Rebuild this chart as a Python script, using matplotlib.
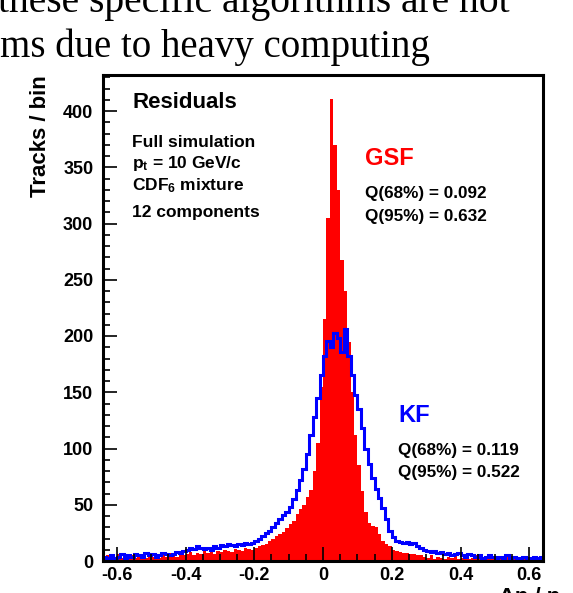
import matplotlib
matplotlib.use("Agg")
import matplotlib.pyplot as plt
import numpy as np

# histogram binning: 0.01 wide bins over [-0.64, 0.64]
bin_lo = -0.64
bin_hi = 0.64
n_bins = 128

# GSF residuals (counts per bin, left to right)
gsf_far_left = [3, 5, 2, 4, 6, 3, 4, 2, 5, 3, 6, 4, 3, 5, 4, 6, 3, 5, 4, 7, 5, 4, 6, 5]
gsf_left = [6, 8, 5, 7, 6, 9, 7, 8, 6, 9, 8, 10, 9, 8, 11, 10, 9, 12, 11, 10]
gsf_core = [12, 13, 14, 15, 18, 20, 22, 24, 26, 29,
            33, 36, 42, 46, 50, 57, 63, 80, 105, 155,
            215, 305, 411, 370, 330, 268, 240, 195, 150, 112,
            85, 62, 44, 34, 31, 30, 24, 18, 15, 13,
            10, 9, 8, 7, 7, 6, 6, 5, 5, 4]
gsf_right = [3, 5, 2, 4, 3, 2, 4, 3, 5, 2, 3, 4, 2, 3, 5, 2, 3,
             2, 4, 3, 2, 3, 2, 4, 2, 3, 2, 2, 3, 2, 4, 2, 3, 2]

# KF residuals
kf_far_left = [4, 3, 5, 3, 4, 6, 3, 5, 4, 6, 5, 4, 7, 5, 6, 4, 5, 7, 6, 5, 6, 8, 7, 9]
kf_left = [10, 12, 11, 13, 12, 11, 12, 10, 13, 12, 14, 13, 15, 14, 13, 15, 14, 16, 15, 16]
kf_core = [18, 20, 22, 25, 27, 30, 34, 37, 41, 44,
           48, 55, 63, 72, 82, 95, 112, 128, 145, 165,
           182, 196, 190, 203, 198, 186, 206, 182, 165, 148,
           135, 118, 100, 86, 74, 64, 56, 47, 37, 27,
           21, 18, 17, 16, 17, 15, 16, 13, 12, 10]
kf_right = [9, 8, 9, 7, 8, 6, 7, 5, 6, 7, 5, 4, 6, 5, 4, 5, 3,
            4, 5, 4, 3, 4, 3, 5, 3, 4, 3, 3, 4, 3, 3, 4, 3, 4]

gsf = np.array(gsf_far_left + gsf_left + gsf_core + gsf_right)
kf = np.array(kf_far_left + kf_left + kf_core + kf_right)
edges = np.linspace(bin_lo, bin_hi, n_bins + 1)

W, H = 573, 593

def px(x, y):
    return x / W, 1 - y / H

plt.rcParams['font.family'] = 'Liberation Sans'
plt.rcParams['font.weight'] = 'bold'
plt.rcParams['mathtext.fontset'] = 'custom'
plt.rcParams['mathtext.rm'] = 'Liberation Sans:bold'
plt.rcParams['mathtext.it'] = 'Liberation Sans:bold'
plt.rcParams['mathtext.bf'] = 'Liberation Sans:bold'

fig = plt.figure(figsize=(W / 100, H / 100), dpi=100)
ax = fig.add_axes([103 / W, 1 - 561 / H, 440 / W, 486 / H])

ax.stairs(gsf, edges, fill=True, color='#ff0000', lw=0)
ax.stairs(kf, edges, color='#0000ff', lw=2.2)

ax.set_xlim(bin_lo, bin_hi)
ax.set_ylim(0, 432)

ax.set_xticks([-0.6, -0.4, -0.2, 0, 0.2, 0.4, 0.6])
ax.set_xticklabels(['-0.6', '-0.4', '-0.2', '0', '0.2', '0.4', '0.6'])
ax.set_xticks(np.arange(-0.6, 0.61, 0.05), minor=True)
ax.set_yticks(np.arange(0, 401, 50))
ax.set_yticks(np.arange(0, 431, 10), minor=True)
ax.tick_params(which='both', direction='in', width=1.2, top=False, right=False,
               labelsize=13)
ax.tick_params(which='major', length=10)
ax.tick_params(which='minor', length=5)
ax.tick_params(axis='x', pad=4)
ax.tick_params(axis='y', pad=7)
for lab in ax.get_xticklabels() + ax.get_yticklabels():
    lab.set_fontweight('bold')
for s in ax.spines.values():
    s.set_linewidth(2.2)

ax.set_ylabel('Tracks / bin', fontsize=16, fontweight='bold', loc='top')
ax.yaxis.set_label_coords((51 - 103) / 440, 1.0)
ax.set_xlabel('Δp / p', fontsize=16, fontweight='bold', loc='right')
ax.xaxis.set_label_coords((560 - 103) / 440, (561 - 587) / 486)

# annotations
fig.text(*px(132, 108), 'Residuals', fontsize=16, fontweight='bold')
info = ['Full simulation', 'p$_\\mathrm{t}$ = 10 GeV/c',
        'CDF$_\\mathrm{6}$ mixture', '12 components']
for txt, yb in zip(info, [147, 168, 190, 217]):
    fig.text(*px(132, yb), txt, fontsize=12.5, fontweight='bold')

fig.text(*px(365, 165), 'GSF', fontsize=17, fontweight='bold', color='#ff0000')
fig.text(*px(365, 198), 'Q(68%) = 0.092', fontsize=12.3, fontweight='bold')
fig.text(*px(365, 221), 'Q(95%) = 0.632', fontsize=12.3, fontweight='bold')

fig.text(*px(398, 422), 'KF', fontsize=17, fontweight='bold', color='#0000ff')
fig.text(*px(398, 455), 'Q(68%) = 0.119', fontsize=12.3, fontweight='bold')
fig.text(*px(398, 477), 'Q(95%) = 0.522', fontsize=12.3, fontweight='bold')

# slide text around the plot
fig.text(*px(510, 12), 'these specific algorithms are not', fontsize=28.5,
         family='Liberation Serif', fontweight='normal', ha='right')
fig.text(*px(0, 57), 'ms due to heavy computing', fontsize=28,
         family='Liberation Serif', fontweight='normal')

fig.savefig('out.png', dpi=100)
